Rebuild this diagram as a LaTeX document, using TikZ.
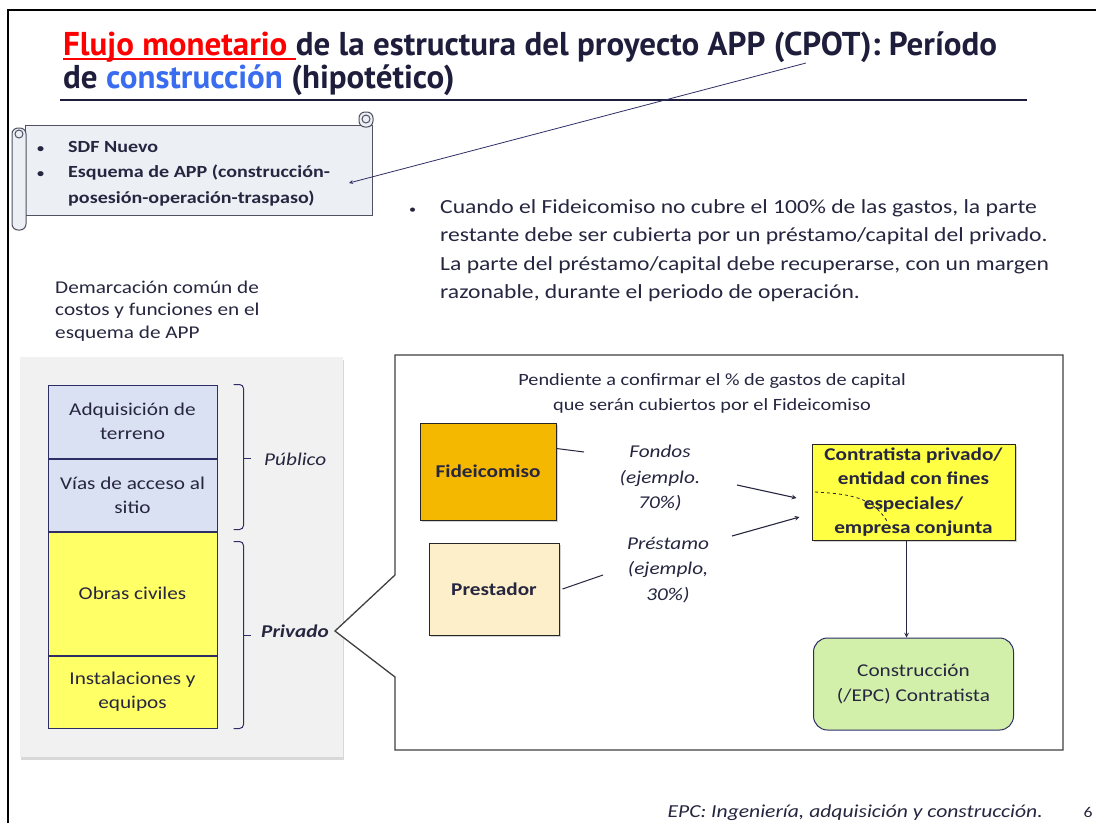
\documentclass[tikz,border=0pt]{standalone}
\usepackage{fontspec}
\setmainfont{Carlito}[FakeStretch=1.18]
\newfontfamily\titlefont{PT Sans}
\usepackage{tikz}
\usetikzlibrary{shapes.geometric, arrows, positioning, calc, decorations.pathreplacing, shadows}

\definecolor{inkdark}{HTML}{262640}
\definecolor{titleink}{HTML}{1E1E3C}
\definecolor{titleblue}{HTML}{3A6CF0}
\definecolor{edgenavy}{HTML}{2E2E66}
\definecolor{cellblue}{HTML}{DAE1F2}
\definecolor{cellyellow}{HTML}{FFFF66}
\definecolor{fidorange}{HTML}{F5B800}
\definecolor{prestcream}{HTML}{FDEFC9}
\definecolor{contryellow}{HTML}{FFFF44}
\definecolor{consgreen}{HTML}{D3F0AA}
\definecolor{panelgray}{HTML}{F1F1F1}
\definecolor{scrollfill}{HTML}{ECEFF4}
\definecolor{scrolledge}{HTML}{505060}

\newcommand{\smallbul}{{\fontsize{12}{12}\selectfont\textbullet}}
\newcommand{\titleul}[1]{\setbox0\hbox{#1}\rlap{\rule[-5pt]{\wd0}{2pt}}\box0}

\tikzstyle{cell} = [rectangle, minimum width=169pt, text width=164pt, align=flush center, draw=edgenavy, line width=1pt, inner sep=0pt, font=\fontsize{18}{24}\selectfont]
\tikzstyle{pubcell} = [cell, fill=cellblue]
\tikzstyle{privcell} = [cell, fill=cellyellow]
\tikzstyle{actor} = [rectangle, text centered, draw=black!85, line width=1pt, inner sep=0pt, font=\fontsize{18}{24}\selectfont\bfseries, drop shadow={shadow xshift=2pt, shadow yshift=-2pt, opacity=0.35}]
\tikzstyle{note} = [align=center, inner sep=0pt, font=\fontsize{18}{25.5}\selectfont\itshape]
\tikzstyle{arrow} = [line width=1.1pt,->,>=stealth, draw=inkdark]
\tikzstyle{pointer} = [line width=0.8pt,->,>=stealth, draw=edgenavy]
\tikzstyle{stub} = [line width=1pt, draw=inkdark]
\tikzstyle{bracer} = [line width=1pt, draw=edgenavy, rounded corners=4pt]
\tikzstyle{scrollpart} = [draw=scrolledge, fill=scrollfill, line width=1pt]

\begin{document}
\begin{tikzpicture}[x=1pt, y=-1pt, every node/.style={text=inkdark}]

		\useasboundingbox (0,0) rectangle (1096,823);
		\fill[white] (0,0) rectangle (1096,823);
		\draw[line width=1.5pt, black] (8,823) -- (8,10) -- (1096,10);

		\node (title1) [anchor=base west, inner sep=0pt, text=titleink, font=\titlefont\bfseries\fontsize{33}{38}\selectfont] at (63,55) {\textcolor{red}{\titleul{Flujo monetario~}}de la estructura del proyecto APP (CPOT): Período};
		\node (title2) [anchor=base west, inner sep=0pt, text=titleink, font=\titlefont\bfseries\fontsize{33}{38}\selectfont] at (63,88) {de \textcolor{titleblue}{construcción} (hipotético)};
		\draw[line width=1.3pt, titleink] (60,100) -- (1027,100);

		\node (scroll) [scrollpart, rectangle, minimum width=347pt, minimum height=90pt, anchor=north west, inner sep=0pt] at (25,125) {};
		\draw[scrollpart, rounded corners=6pt] (12,128) rectangle (26,230);
		\draw[scrollpart] (19,134) circle (4pt);
		\draw[scrollpart, rounded corners=6pt] (359,112) rectangle (373,127);
		\draw[scrollpart] (366,119) circle (4pt);
		\node (scrolltext) [anchor=base west, inner sep=0pt, font=\fontsize{17}{25.5}\selectfont\bfseries] at (37,152) {\begin{tabular}[t]{@{}p{31pt}@{}l@{}}\smallbul & SDF Nuevo\\ \smallbul & Esquema de APP (construcción-\\ & posesión-operación-traspaso)\end{tabular}};

		\coordinate (ptrstart) at (806,63);
		\coordinate (ptrend) at (349,183);
		\draw[pointer] (ptrstart) -- (ptrend);

		\node (cuando) [anchor=base west, inner sep=0pt, font=\fontsize{20}{28.5}\selectfont] at (409,213) {\begin{tabular}[t]{@{}p{31pt}@{}l@{}}\smallbul & Cuando el Fideicomiso no cubre el 100\% de las gastos, la parte\\ & restante debe ser cubierta por un préstamo/capital del privado.\\ & La parte del préstamo/capital debe recuperarse, con un margen\\ & razonable, durante el periodo de operación.\end{tabular}};

		\node (demarc) [anchor=base west, inner sep=0pt, font=\fontsize{18}{22.5}\selectfont] at (55,293) {\begin{tabular}[t]{@{}l@{}}Demarcación común de\\ costos y funciones en el\\ esquema de APP\end{tabular}};

		\node (panel) [rectangle, fill=panelgray, minimum width=323pt, minimum height=400pt, drop shadow={shadow xshift=1pt, shadow yshift=-3pt, opacity=0.3}] at (181.5,557) {};

		\node (terreno) [pubcell, minimum height=73pt] at (132.5,421.5) {Adquisición de\\terreno};
		\node (vias) [pubcell, minimum height=72pt, below=0pt of terreno] {Vías de acceso al\\sitio};
		\node (obras) [privcell, minimum height=123pt, below=0pt of vias] {Obras civiles};
		\node (equipos) [privcell, minimum height=72pt, below=0pt of obras] {Instalaciones y\\equipos};

		\draw[bracer] ([xshift=16pt]terreno.north east) -- ++(10pt,0) |- ([xshift=16pt,yshift=2pt]vias.south east);
		\draw[bracer] ([xshift=26pt]$(terreno.north east)!0.5!(vias.south east)$) -- ++(7pt,0);
		\draw[bracer] ([xshift=16pt,yshift=-10pt]obras.north east) -- ++(10pt,0) |- ([xshift=16pt]equipos.south east);
		\draw[bracer] ([xshift=26pt,yshift=-5pt]$(obras.north east)!0.5!(equipos.south east)$) -- ++(7pt,0);
		\node (publico) [anchor=west, inner sep=0pt, font=\fontsize{18}{22}\selectfont\itshape] at (264,459) {Público};
		\node (privado) [anchor=west, inner sep=0pt, font=\fontsize{18}{22}\selectfont\bfseries\itshape] at (261,631) {Privado};

		\draw[line width=1.3pt, draw=black!75, fill=white] (395,355) -- (1063,355) -- (1063,750) -- (395,750) -- (395,677) -- ([xshift=6pt]privado.east) -- (395,575) -- cycle;

		\node (pendiente) [anchor=base, inner sep=0pt, font=\fontsize{17.2}{25}\selectfont] at (712,385) {\begin{tabular}[t]{@{}c@{}}Pendiente a confirmar el \% de gastos de capital\\que serán cubiertos por el Fideicomiso\end{tabular}};

		\node (fide) [actor, fill=fidorange, minimum width=136pt, minimum height=97pt] at (488,471.5) {Fideicomiso};
		\node (prest) [actor, fill=prestcream, minimum width=130pt, minimum height=92pt, node distance=117.5pt, below of=fide, xshift=6pt] {Prestador};
		\node (contr) [actor, fill=contryellow, minimum width=203pt, minimum height=96pt, text width=200pt, align=flush center, font=\fontsize{18}{24.5}\selectfont\bfseries] at (913.5,492) {Contratista privado/\\entidad con fines\\especiales/\\empresa conjunta};
		\node (cons) [rectangle, rounded corners=14pt, draw=edgenavy, line width=1pt, fill=consgreen, minimum width=200pt, minimum height=92pt, align=center, font=\fontsize{18}{25}\selectfont, node distance=192pt, below of=contr] {Construcción\\(/EPC) Contratista};

		\node (fondos) [note] at (660,478) {Fondos\\(ejemplo.\\70\%)};
		\node (prestamo) [note] at (668,570) {Préstamo\\(ejemplo,\\30\%)};

		\coordinate (fondosin) at (584,452);
		\coordinate (prestin) at (603,575);
		\coordinate (fondosout) at (737,485);
		\coordinate (prestout) at (732,536);
		\draw [stub] ([yshift=23pt]fide.east) -- (fondosin);
		\draw [stub] ([xshift=3pt]prest.east) -- (prestin);
		\draw [arrow] (fondosout) -- ([xshift=-15pt,yshift=-6pt]contr.west);
		\draw [arrow] (prestout) -- ([xshift=-12pt,yshift=-25pt]contr.west);
		\draw [arrow] ([xshift=-7pt]contr.south) -- ([xshift=-7pt]cons.north);
		\draw[dashed, line width=0.8pt, draw=inkdark] (815,492) .. controls (850,494) and (872,497) .. (887,521);

		\node (epc) [anchor=base east, inner sep=0pt, font=\fontsize{18.3}{20}\selectfont\itshape] at (1043,817) {EPC: Ingeniería, adquisición y construcción.};
		\node (pagenum) [anchor=base, inner sep=0pt, font=\fontsize{15}{18}\selectfont] at (1088,817) {6};
\end{tikzpicture}
\end{document}
